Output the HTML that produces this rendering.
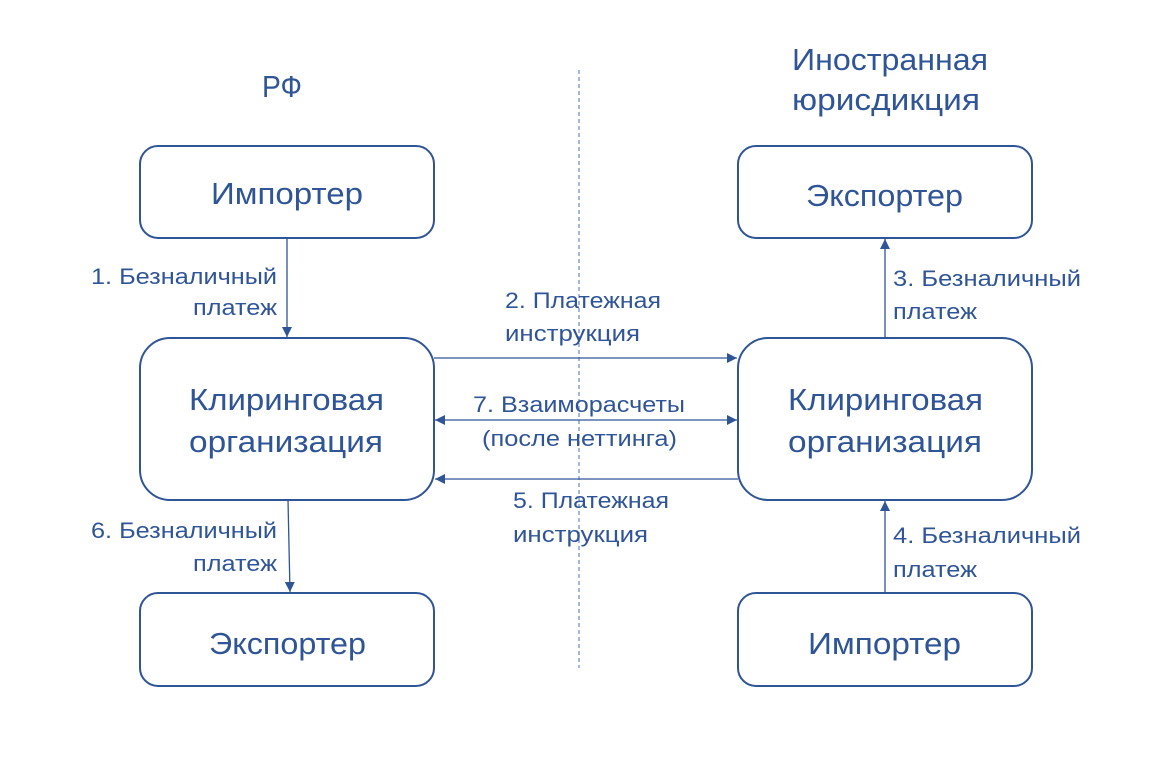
<!DOCTYPE html>
<html><head><meta charset="utf-8"><style>html,body{margin:0;padding:0;background:#fff}svg{display:block}</style></head>
<body>
<svg width="1173" height="758" viewBox="0 0 1173 758" xmlns="http://www.w3.org/2000/svg" font-family="Liberation Sans, sans-serif" fill="#2F5597">
<defs>
<marker id="a" viewBox="0 0 10 10" refX="10" refY="5" markerWidth="10" markerHeight="10" markerUnits="userSpaceOnUse" orient="auto-start-reverse"><path d="M0,0 L10,5 L0,10 z" fill="#2F5597"/></marker>
</defs>
<line x1="579" y1="70" x2="579" y2="668" stroke="#4472C4" stroke-width="1" stroke-dasharray="4,3"/>
<g fill="none" stroke="#2F5597" stroke-width="2">
<rect x="140" y="146" width="294" height="92" rx="18"/>
<rect x="140" y="338" width="294" height="162" rx="30"/>
<rect x="140" y="593" width="294" height="93" rx="18"/>
<rect x="738" y="146" width="294" height="92" rx="18"/>
<rect x="738" y="338" width="294" height="162" rx="30"/>
<rect x="738" y="593" width="294" height="93" rx="18"/>
</g>
<g stroke="#2F5597" stroke-width="1.3" fill="none">
<line x1="287" y1="238" x2="287" y2="337" marker-end="url(#a)"/>
<line x1="288" y1="500" x2="290" y2="592" marker-end="url(#a)"/>
<line x1="885" y1="338" x2="885" y2="239" marker-end="url(#a)"/>
<line x1="885" y1="593" x2="885" y2="501" marker-end="url(#a)"/>
<line x1="434" y1="358" x2="737" y2="358" marker-end="url(#a)"/>
<line x1="435" y1="420" x2="737" y2="420" marker-start="url(#a)" marker-end="url(#a)"/>
<line x1="738" y1="479" x2="435" y2="479" marker-end="url(#a)"/>
</g>
<g font-size="31">
<text x="262" y="97" textLength="40" lengthAdjust="spacingAndGlyphs">РФ</text>
<text x="792" y="70" textLength="196" lengthAdjust="spacingAndGlyphs">Иностранная</text>
<text x="792" y="110" textLength="188" lengthAdjust="spacingAndGlyphs">юрисдикция</text>
<text x="211" y="204" textLength="152" lengthAdjust="spacingAndGlyphs">Импортер</text>
<text x="806" y="206" textLength="157" lengthAdjust="spacingAndGlyphs">Экспортер</text>
<text x="189" y="410" textLength="195" lengthAdjust="spacingAndGlyphs">Клиринговая</text>
<text x="189" y="452" textLength="194" lengthAdjust="spacingAndGlyphs">организация</text>
<text x="788" y="410" textLength="195" lengthAdjust="spacingAndGlyphs">Клиринговая</text>
<text x="788" y="452" textLength="194" lengthAdjust="spacingAndGlyphs">организация</text>
<text x="209" y="654" textLength="157" lengthAdjust="spacingAndGlyphs">Экспортер</text>
<text x="808" y="654" textLength="153" lengthAdjust="spacingAndGlyphs">Импортер</text>
</g>
<g font-size="22">
<text x="91" y="284" textLength="186" lengthAdjust="spacingAndGlyphs">1. Безналичный</text>
<text x="193" y="315" textLength="84" lengthAdjust="spacingAndGlyphs">платеж</text>
<text x="505" y="308" textLength="156" lengthAdjust="spacingAndGlyphs">2. Платежная</text>
<text x="505" y="341" textLength="135" lengthAdjust="spacingAndGlyphs">инструкция</text>
<text x="473" y="412" textLength="212" lengthAdjust="spacingAndGlyphs">7. Взаиморасчеты</text>
<text x="482" y="446" textLength="195" lengthAdjust="spacingAndGlyphs">(после неттинга)</text>
<text x="513" y="508" textLength="156" lengthAdjust="spacingAndGlyphs">5. Платежная</text>
<text x="513" y="542" textLength="135" lengthAdjust="spacingAndGlyphs">инструкция</text>
<text x="893" y="286" textLength="188" lengthAdjust="spacingAndGlyphs">3. Безналичный</text>
<text x="893" y="319" textLength="84" lengthAdjust="spacingAndGlyphs">платеж</text>
<text x="893" y="543" textLength="188" lengthAdjust="spacingAndGlyphs">4. Безналичный</text>
<text x="893" y="577" textLength="84" lengthAdjust="spacingAndGlyphs">платеж</text>
<text x="91" y="538" textLength="186" lengthAdjust="spacingAndGlyphs">6. Безналичный</text>
<text x="193" y="571" textLength="84" lengthAdjust="spacingAndGlyphs">платеж</text>
</g>
</svg>
</body></html>
